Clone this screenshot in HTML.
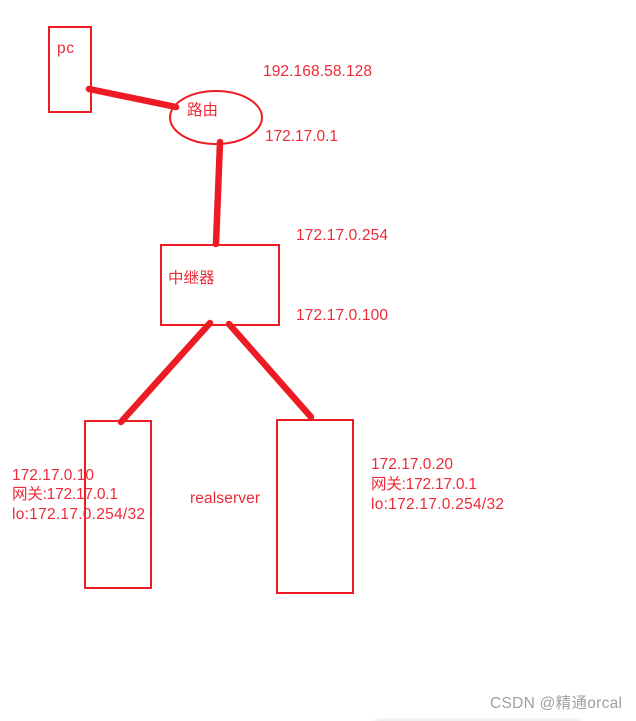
<!DOCTYPE html>
<html><head><meta charset="utf-8"><style>
html,body{margin:0;padding:0;background:#fff}
body{width:636px;height:721px;overflow:hidden;position:relative}
svg{position:absolute;left:0;top:0}
text{font-family:"Liberation Sans","Noto Sans CJK SC",sans-serif;font-size:15.5px;fill:#ed2a37}
</style></head><body>
<svg width="636" height="721" viewBox="0 0 636 721">
<defs><linearGradient id="g" x1="0" y1="0" x2="0" y2="1"><stop offset="0" stop-color="#ececec"/><stop offset="1" stop-color="#e0e0e0"/></linearGradient>
<filter id="b"><feGaussianBlur stdDeviation="3"/></filter></defs>
<rect x="375" y="719" width="205" height="8" fill="url(#g)" filter="url(#b)"/>
<g fill="none" stroke="#ed1c24" stroke-width="2">
<rect x="49" y="27" width="42" height="85"/>
<ellipse cx="216" cy="117.500" rx="46" ry="26.500"/>
<rect x="161" y="245" width="118" height="80"/>
<rect x="85" y="421" width="66" height="167"/>
<rect x="277" y="420" width="76" height="173"/>
</g>
<g fill="none" stroke="#ed1c24" stroke-width="6.500" stroke-linecap="round">
<line x1="89" y1="89" x2="176" y2="107"/>
<line x1="220" y1="142" x2="216" y2="244"/>
<line x1="210" y1="323" x2="121" y2="422"/>
<line x1="229" y1="324" x2="311" y2="417"/>
</g>
<text x="57" y="53" textLength="17">pc</text>
<text x="187" y="115">路由</text>
<text x="263" y="76" textLength="109">192.168.58.128</text>
<text x="265" y="141" textLength="73">172.17.0.1</text>
<text x="296" y="240" textLength="92">172.17.0.254</text>
<text x="168" y="283">中继器</text>
<text x="296" y="320" textLength="92">172.17.0.100</text>
<text x="12" y="480" textLength="82">172.17.0.10</text>
<text x="12" y="499" textLength="106">网关:172.17.0.1</text>
<text x="12" y="519" textLength="133">lo:172.17.0.254/32</text>
<text x="190" y="503" textLength="70" style="font-size:15.500px">realserver</text>
<text x="371" y="469" textLength="82">172.17.0.20</text>
<text x="371" y="489" textLength="106">网关:172.17.0.1</text>
<text x="371" y="509" textLength="133">lo:172.17.0.254/32</text>
<text x="490" y="708" textLength="132" style="font-size:15.500px;fill:#a0a0a0">CSDN @精通orcal</text>
</svg>
</body></html>
